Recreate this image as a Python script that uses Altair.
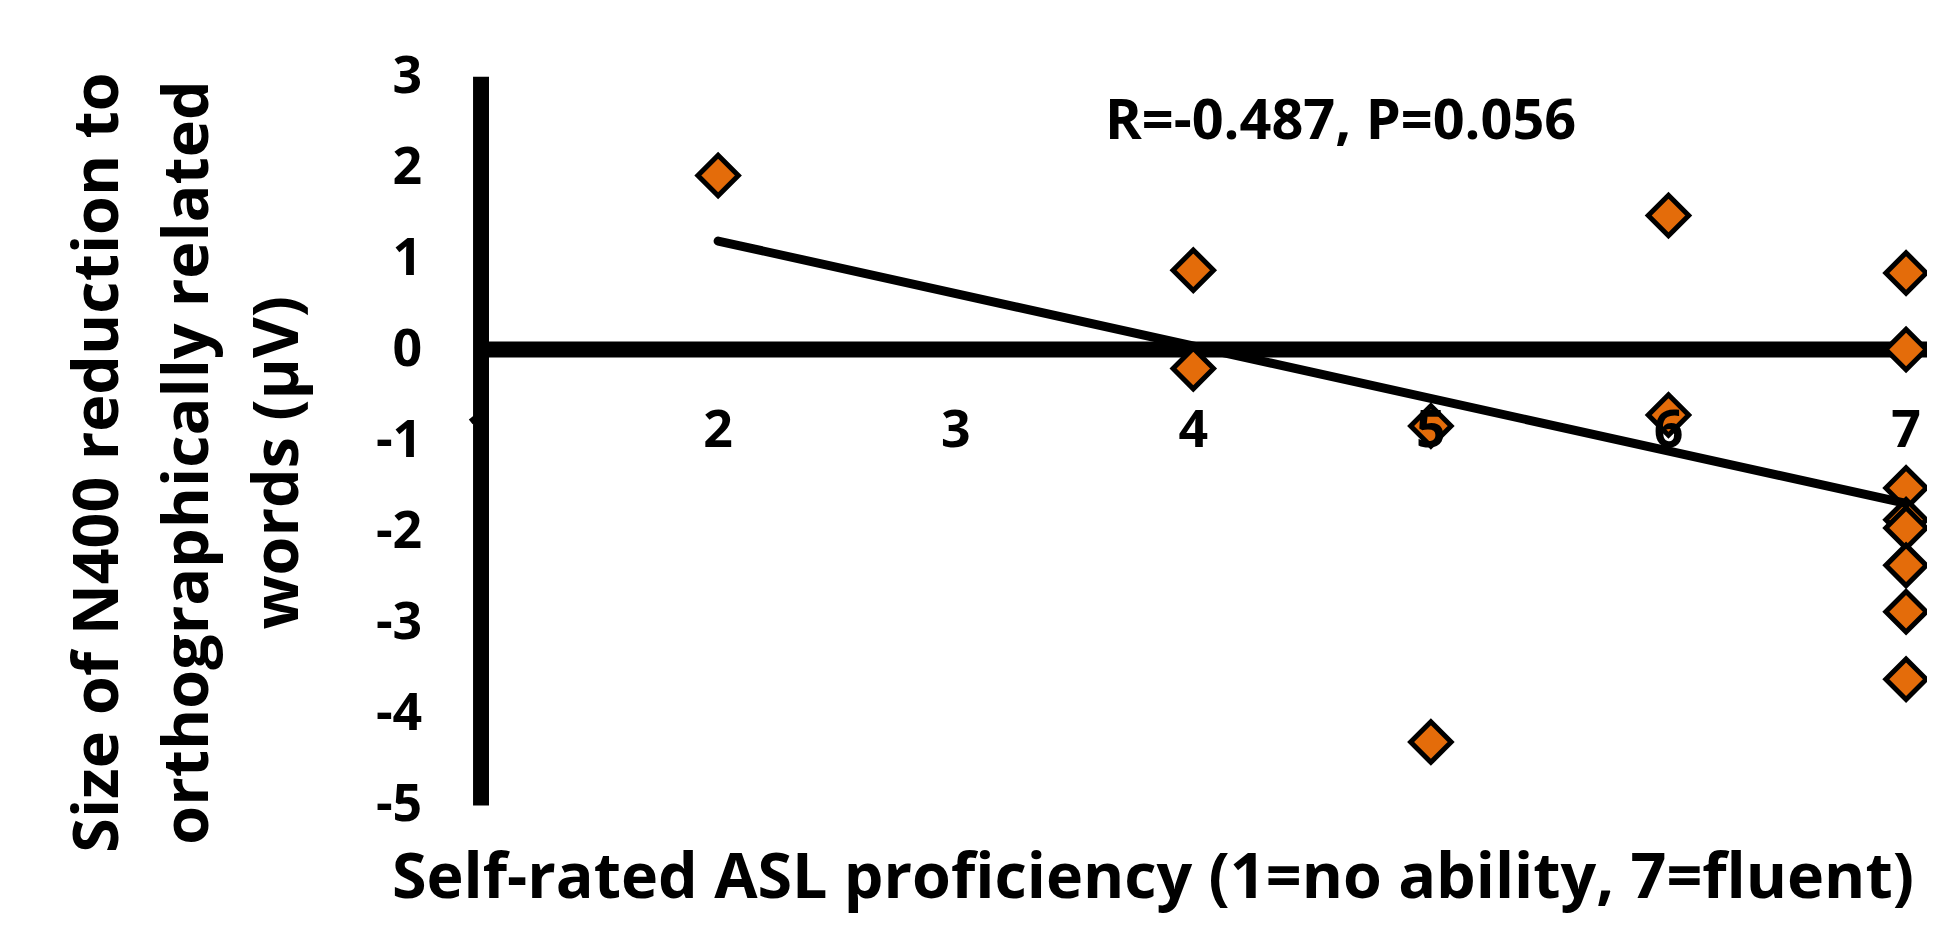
import altair as alt
import pandas as pd

# ---- data ----
proficiency = [2, 4, 4, 5, 5, 6, 6, 7, 7, 7, 7, 7, 7, 7, 7]
n400_reduction = [1.91, 0.87, -0.21, -0.84, -4.31, 1.47, -0.72, 0.84, 0.0,
                  -1.52, -1.87, -1.96, -2.37, -2.88, -3.62]

trend_x = [2, 7]
trend_y = [1.19, -1.69]

x_ticks = [1, 2, 3, 4, 5, 6, 7]
x_tick_labels = ["1", "2", "3", "4", "5", "6", "7"]
x_tick_label_y = -0.89
y_ticks = [-5, -4, -3, -2, -1, 0, 1, 2, 3]

zero_line_x = [1]
zero_line_x2 = [7.1]
zero_line_y = [0]

annotation_text = ["R=-0.487, P=0.056"]
annotation_x = [4.62]
annotation_y = [2.31]

y_title = ["Size of N400 reduction to", "orthographically related", "words (µV)"]
x_title = "Self-rated ASL proficiency (1=no ability, 7=fluent)"

FONT = "Open Sans"
ORANGE = "#E46C0A"

# ---- tables ----
pts = pd.DataFrame({"x": proficiency, "y": n400_reduction})
trend = pd.DataFrame({"x": trend_x, "y": trend_y})
xlab = pd.DataFrame({"x": x_ticks, "y": [x_tick_label_y] * len(x_ticks), "t": x_tick_labels})
zero = pd.DataFrame({"x": zero_line_x, "x2": zero_line_x2, "y": zero_line_y})
ann = pd.DataFrame({"x": annotation_x, "y": annotation_y, "t": annotation_text})

xs = alt.Scale(domain=[1, 7], nice=False, zero=False)
ys = alt.Scale(domain=[-5, 3], nice=False, zero=False)

x_axis = alt.Axis(
    title=x_title, labels=False, ticks=False, domain=False, grid=False,
    titleFont=FONT, titleFontWeight="bold", titleFontSize=63, titleColor="black",
    titleX=674, titleY=93, titleAlign="center", titleBaseline="alphabetic",
)
y_axis = alt.Axis(
    values=y_ticks, labelExpr="'' + datum.value",
    labelFont=FONT, labelFontWeight="bold", labelFontSize=52, labelColor="black",
    labelPadding=59, ticks=False, tickSize=0, grid=False,
    domain=True, domainWidth=16, domainColor="black",
    title=y_title, titleFont=FONT, titleFontWeight="bold", titleFontSize=63,
    titleColor="black", titleAngle=270, titleX=-383, titleY=387,
    titleAlign="center", titleBaseline="middle", titleLineHeight=90,
)

X = lambda: alt.X("x:Q", scale=xs, axis=x_axis)
Y = lambda: alt.Y("y:Q", scale=ys, axis=y_axis)

zero_rule = alt.Chart(zero).mark_rule(color="black", strokeWidth=16).encode(
    x=X(), x2="x2:Q", y=Y()
)

diamonds = alt.Chart(pts).mark_point(
    shape="diamond", filled=True, fill=ORANGE, stroke="black",
    strokeWidth=5, size=1650, opacity=1
).encode(x=X(), y=Y())

xlabels = alt.Chart(xlab).mark_text(
    font=FONT, fontWeight="bold", fontSize=52, color="black",
    align="center", baseline="middle"
).encode(x=X(), y=Y(), text="t:N")

trend_line = alt.Chart(trend).mark_line(
    color="black", strokeWidth=9, strokeCap="round"
).encode(x=X(), y=Y())

annotation = alt.Chart(ann).mark_text(
    font=FONT, fontWeight="bold", fontSize=56, color="black",
    align="center", baseline="alphabetic"
).encode(x=X(), y=Y(), text="t:N")

chart = alt.layer(zero_rule, diamonds, xlabels, trend_line, annotation).properties(
    width=1430, height=731,
    padding={"left": 474, "top": 67, "right": 21, "bottom": 112},
    autosize=alt.AutoSizeParams(type="none"),
    background="white",
).configure_view(stroke=None)

chart.save("out.html", embed_options={"renderer": "svg", "actions": False})
